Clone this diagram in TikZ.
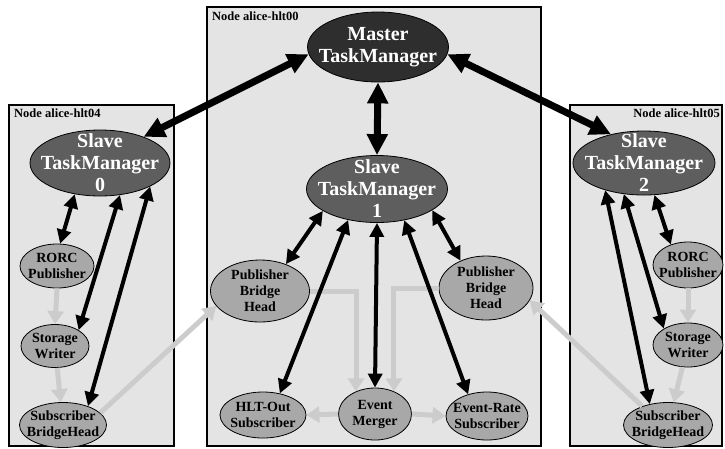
\documentclass[tikz,border=0pt]{standalone}
\usepackage{fontspec}
\setmainfont{Liberation Serif}
\usetikzlibrary{arrows.meta, shapes.geometric}
\definecolor{hostgray}{HTML}{E4E4E4}
\definecolor{mastergray}{HTML}{2E2E2E}
\definecolor{slavegray}{HTML}{5E5E5E}
\definecolor{compgray}{HTML}{A8A8A8}
\definecolor{flowgray}{HTML}{CCCCCC}

\begin{document}
\begin{tikzpicture}[
    x=1pt, y=-1pt,
    font=\bfseries,
    host/.style={draw, line width=2pt, fill=hostgray},
    hostname/.style={inner sep=0pt, font=\fontsize{12.5}{14}\selectfont\bfseries},
    tm/.style={ellipse, draw, line width=0.8pt, inner sep=0pt, fill=slavegray},
    tmtext/.style={align=center, inner sep=0pt, text=white, font=\fontsize{20}{22}\selectfont\bfseries},
    comp/.style={ellipse, draw, line width=0.8pt, inner sep=0pt, fill=compgray},
    comptext/.style={align=center, inner sep=0pt, font=\fontsize{14}{16}\selectfont\bfseries},
    ctrl/.style={{Triangle[length=14pt,width=14pt]}-{Triangle[length=14pt,width=14pt]}, line width=4pt},
    mctrl/.style={{Triangle[length=21pt,width=20pt]}-{Triangle[length=21pt,width=20pt]}, line width=7pt},
    flow/.style={-{Triangle[length=13pt,width=16pt]}, line width=5pt, draw=flowgray}
]
\useasboundingbox (0,0) rectangle (725,448);

% hosts
\draw[host] (9,105) rectangle (174,446);
\draw[host] (207,7) rectangle (541,446);
\draw[host] (570,105) rectangle (722,446);
\node[hostname, anchor=north west] (h04) at (14,109) {Node alice-hlt04};
\node[hostname, anchor=north west] (h00) at (212,12) {Node alice-hlt00};
\node[hostname, anchor=north east] (h05) at (720,109) {Node alice-hlt05};

% task managers
\node[tm, fill=mastergray, minimum width=141pt, minimum height=70pt,
    label={[tmtext]center:{Master\\TaskManager}}] (master) at (378,47) {};
\node[tm, minimum width=140pt, minimum height=66pt,
    label={[tmtext]center:{Slave\\TaskManager\\0}}] (slave0) at (100,163) {};
\node[tm, minimum width=141pt, minimum height=67pt,
    label={[tmtext]center:{Slave\\TaskManager\\1}}] (slave1) at (377,189) {};
\node[tm, minimum width=142pt, minimum height=64pt,
    label={[tmtext]center:{Slave\\TaskManager\\2}}] (slave2) at (644,163) {};

% alice-hlt04
\node[comp, minimum width=74pt, minimum height=44pt,
    label={[comptext]center:{RORC\\Publisher}}] (rorc0) at (57,266) {};
\node[comp, minimum width=68pt, minimum height=43pt,
    label={[comptext]center:{Storage\\Writer}}] (writer0) at (55,346) {};
\node[comp, minimum width=87pt, minimum height=45pt,
    label={[comptext]center:{Subscriber\\BridgeHead}}] (subbh0) at (63,425) {};

% alice-hlt00
\node[comp, minimum width=99pt, minimum height=62pt,
    label={[comptext]center:{Publisher\\Bridge\\Head}}] (pubbhl) at (260,291) {};
\node[comp, minimum width=94pt, minimum height=64pt,
    label={[comptext]center:{Publisher\\Bridge\\Head}}] (pubbhr) at (486,288) {};
\node[comp, minimum width=86pt, minimum height=46pt,
    label={[comptext]center:{HLT-Out\\Subscriber}}] (hltout) at (263,415) {};
\node[comp, minimum width=73pt, minimum height=52pt,
    label={[comptext]center:{Event\\Merger}}] (merger) at (375,414) {};
\node[comp, minimum width=82pt, minimum height=48pt,
    label={[comptext]center:{Event-Rate\\Subscriber}}] (evrate) at (487,416) {};

% alice-hlt05
\node[comp, minimum width=70pt, minimum height=46pt,
    label={[comptext]center:{RORC\\Publisher}}] (rorc2) at (688,265) {};
\node[comp, minimum width=70pt, minimum height=44pt,
    label={[comptext]center:{Storage\\Writer}}] (writer2) at (688,345) {};
\node[comp, minimum width=89pt, minimum height=45pt,
    label={[comptext]center:{Subscriber\\BridgeHead}}] (subbh2) at (668,425) {};

% data flow
\draw[flow] (rorc0.south) -- (writer0.north);
\draw[flow] (writer0) -- (subbh0);
\draw[flow] (subbh0.18) -- (pubbhl.199);
\draw[flow] (rorc2.south) -- (writer2.north);
\draw[flow] (writer2) -- (subbh2);
\draw[flow] (subbh2.144) -- (pubbhr.344);
\draw[flow] (pubbhl.east) -| (merger.130);
\draw[flow] (pubbhr.west) -| (merger.50);
\draw[flow] (merger.west) -- (hltout.east);
\draw[flow] (merger.east) -- (evrate.west);

% control
\draw[mctrl] (master.186) -- (slave0.31);
\draw[mctrl] (master.354) -- (slave2.139);
\draw[mctrl] (master.south) -- (slave1.north);
\draw[ctrl] (slave0.231) -- (rorc0.82);
\draw[ctrl] (slave0.302) -- (writer0.34);
\draw[ctrl] (slave0.335) -- (subbh0.37);
\draw[ctrl] (slave1.202) -- (pubbhl.46);
\draw[ctrl] (slave1.227) -- (hltout.52);
\draw[ctrl] (slave1.south) -- (merger.north);
\draw[ctrl] (slave1.311) -- (evrate.131);
\draw[ctrl] (slave1.339) -- (pubbhr.133);
\draw[ctrl] (slave2.288) -- (rorc2.130);
\draw[ctrl] (slave2.237) -- (writer2.146);
\draw[ctrl] (slave2.215) -- (subbh2.131);
\end{tikzpicture}
\end{document}
